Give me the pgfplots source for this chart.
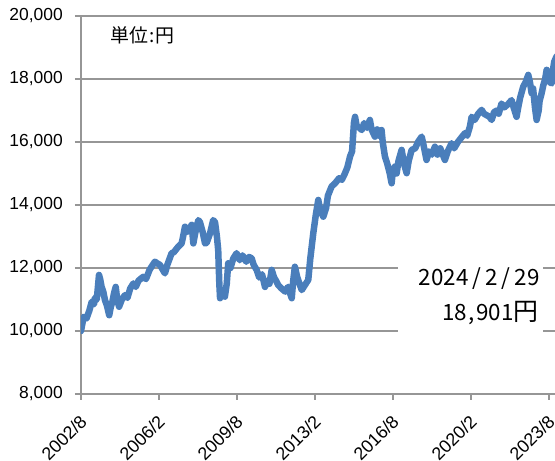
\documentclass[border=0pt]{standalone}
\usepackage{fontspec}
\setmainfont{Liberation Sans}
\newfontfamily\jp{Noto Sans CJK JP}
\usepackage{pgfplots}
\pgfplotsset{compat=1.18}
\definecolor{lineblue}{RGB}{74,126,187}
\definecolor{gridgray}{RGB}{150,150,150}
\begin{document}
\begin{tikzpicture}
\begin{axis}[
  scale only axis, width=474bp, height=378bp,
  xmin=0, xmax=255.3, ymin=8000, ymax=20000,
  axis lines*=left,
  axis line style={gridgray, line width=1.3bp},
  ymajorgrids, grid style={gridgray, line width=1.3bp},
  tick align=outside, major tick length=6bp,
  tick style={gridgray, line width=1.3bp},
  xtick={0,42,84,126,168,210,252},
  xticklabels={2002/8,2006/2,2009/8,2013/2,2016/8,2020/2,2023/8},
  ytick={8000,10000,12000,14000,16000,18000,20000},
  /pgf/number format/assume math mode=true,
  /pgf/number format/1000 sep={,},
  scaled y ticks=false,
  yticklabel style={font=\fontsize{17.5}{17.5}\selectfont, inner xsep=4bp, xshift=-8bp},
  xticklabel style={font=\fontsize{18}{18}\selectfont, xshift=4bp, yshift=-17bp, rotate=45, anchor=east, inner sep=2bp},
  clip=true,
]
\addplot[lineblue, line width=6.5bp, line join=round, line cap=round] coordinates {
(0,10000) (0.8,10250) (1.5,10450) (3,10400) (4.5,10650) (5.8,10930) (7,10850) (7.5,11050)
(8.5,11000) (9.7,11780) (10.3,11650) (11.1,11400) (12,11250) (12.9,10985) (14,10800) (15.2,10500)
(16,10750) (16.9,10930) (17.8,11200) (18.7,11400) (19.5,11000) (20.5,10770) (22,11000) (23.7,11140)
(25,11050) (26.5,11350) (28.2,11510) (29.5,11400) (31,11600) (33.5,11720) (35,11650) (37,11950)
(39.8,12200) (41,12150) (42.5,12100) (44,11950) (45.2,11830) (46.5,12100) (48.8,12470) (50,12500)
(52,12650) (54.2,12780) (55,13000) (56,13310) (57.5,13150) (59.6,13370) (60.5,12780) (61.5,13100)
(63.2,13520) (64.1,13450) (65.5,13150) (66.8,12780) (67.7,12800) (69.5,13100) (71.2,13520) (72.2,13450)
(73.2,13000) (73.9,12570) (74.5,11500) (74.9,11040) (76,11300) (77.5,11090) (78.5,11500) (79.3,12150)
(80.5,12000) (82,12300) (83.8,12470) (85.5,12250) (87,12400) (89,12200) (90.5,12350) (91.9,12310)
(93,12100) (94.6,11940) (96,11700) (97.5,11800) (99.1,11400) (100.5,11600) (101.5,11500) (102.7,11940)
(104,11700) (105,11600) (106.2,11460) (108,11350) (110,11250) (111.5,11400) (113.5,11040) (114.3,11600)
(115.2,12040) (116.5,11700) (118.9,11300) (120.5,11450) (122.4,11620) (123.5,12300) (125.1,13100) (126.5,13700)
(127.8,14160) (129,13800) (130.5,13630) (132,13900) (133,14300) (135,14590) (137,14700) (139,14850)
(140.5,14800) (142.2,15010) (143.5,15200) (144.9,15540) (146,15700) (147,16600) (147.6,16800) (148.5,16500)
(150,16450) (151.2,16380) (152.5,16600) (154,16450) (155.6,16700) (156.5,16400) (158.3,16170) (159.5,16400)
(160.5,16200) (161.9,16380) (162.5,16000) (163.7,15540) (165,15300) (166.3,15000) (167.3,14690) (168,15100)
(169.1,15220) (170,15000) (171,15400) (172.7,15750) (174,15300) (175.4,15010) (176.5,15400) (178.1,15750)
(180,15800) (181.5,16000) (183.5,16170) (184.5,15900) (186.1,15430) (187.5,15700) (189,15600) (190.6,15850)
(192,15600) (193.5,15800) (196,15430) (197.5,15700) (199.6,15960) (201,15800) (203,16000) (205,16150)
(206.8,16280) (208,16200) (209.5,16500) (210.4,16800) (212,16700) (214,16900) (215.8,17020) (217,16900)
(218.5,16850) (220,16800) (221.2,16700) (222.5,16950) (224,17000) (225,16900) (226.5,17220) (228,17100)
(230,17200) (231.9,17330) (233,17100) (234.6,16800) (235.5,17100) (236.5,17400) (238.2,17760) (239.5,17900)
(240.9,18130) (241.8,17900) (242.7,17550) (243.5,17700) (244.5,17100) (245.4,16700) (246.5,17000) (247,17300)
(248.1,17550) (249,17800) (250,18000) (250.8,18290) (251.5,18100) (252.5,17900) (253.5,17860) (254.2,18300)
(254.9,18550) (256,18700) (258.9,18901)
};
\fill[white] (axis cs:170.7,9700) rectangle (axis cs:248.8,12450);
\node[anchor=base east, inner sep=0pt, font=\jp\fontsize{22.5}{22.5}\selectfont] at (axis cs:247.1,11430) {2024\kern4bp/\kern4bp2\kern4bp/\kern4bp29};
\node[anchor=base east, inner sep=0pt, font=\jp\fontsize{22.5}{22.5}\selectfont] at (axis cs:246.5,10320) {18\kern1.5bp,\kern1.5bp901{\fontsize{25}{25}\selectfont 円}};
\node[anchor=base west, inner sep=0pt, font=\jp\fontsize{19}{19}\selectfont] at (axis cs:15.6,19150) {単位\kern1bp:\kern1bp円};
\end{axis}
\pgfresetboundingbox
\path ([shift={(-81bp,-67bp)}]current axis.south west) rectangle ([shift={(0bp,16bp)}]current axis.north east);
\end{tikzpicture}
\end{document}
